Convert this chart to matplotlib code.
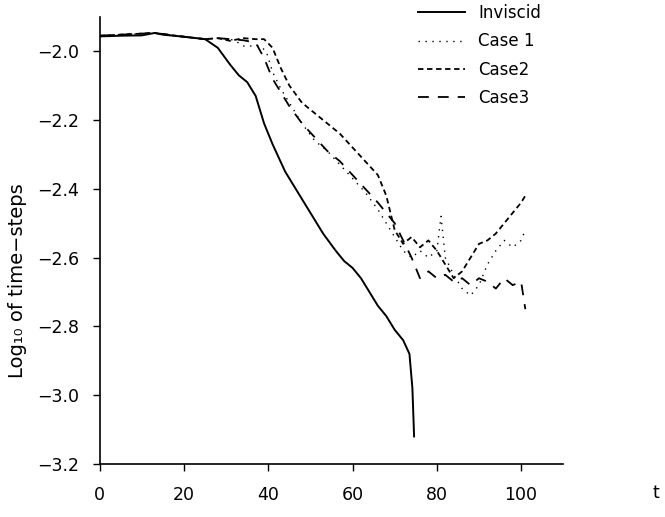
import numpy as np
import matplotlib
matplotlib.use("Agg")
import matplotlib.pyplot as plt

# ---- data ----
inviscid_t = [0, 5, 10, 13, 15, 20, 25, 28, 31, 33, 35, 37, 39, 41, 44, 47, 50,
              53, 56, 58, 60, 62, 64, 66, 68, 70, 72, 73.5, 74.2, 74.6]
inviscid_y = [-1.957, -1.955, -1.954, -1.947, -1.952, -1.958, -1.965, -1.99,
              -2.04, -2.07, -2.09, -2.13, -2.21, -2.27, -2.35, -2.41, -2.47,
              -2.53, -2.58, -2.61, -2.63, -2.66, -2.70, -2.74, -2.77, -2.81,
              -2.84, -2.88, -2.98, -3.12]

case1_t = [0, 13, 20, 25, 29, 32, 34, 36, 38, 39.5, 41, 43, 45, 48, 51, 54, 57,
           60, 63, 66, 68, 70, 72, 74, 76, 78, 80, 81, 82, 84, 86, 88, 90, 92,
           94, 96, 98, 100, 101]
case1_y = [-1.955, -1.947, -1.958, -1.965, -1.962, -1.968, -1.985, -1.985,
           -1.985, -2.0, -2.06, -2.11, -2.15, -2.21, -2.26, -2.29, -2.33,
           -2.37, -2.41, -2.46, -2.50, -2.54, -2.58, -2.60, -2.58, -2.60,
           -2.58, -2.48, -2.60, -2.65, -2.69, -2.71, -2.68, -2.62, -2.58,
           -2.55, -2.57, -2.55, -2.52]

case2_t = [0, 13, 20, 25, 28, 31, 34, 37, 39, 41, 43, 45, 48, 51, 54, 57, 60,
           63, 66, 68, 70, 72, 74, 76, 78, 80, 82, 84, 86, 88, 90, 92, 94, 96,
           98, 100, 101]
case2_y = [-1.955, -1.947, -1.958, -1.965, -1.962, -1.97, -1.962, -1.965,
           -1.965, -1.99, -2.05, -2.10, -2.15, -2.18, -2.21, -2.24, -2.28,
           -2.32, -2.36, -2.42, -2.52, -2.56, -2.54, -2.57, -2.55, -2.58,
           -2.62, -2.66, -2.64, -2.60, -2.56, -2.55, -2.53, -2.50, -2.47,
           -2.44, -2.42]

case3_t = [0, 13, 20, 25, 28, 31, 34, 37, 39, 41, 43, 45, 48, 51, 54, 57, 60,
           63, 66, 68, 70, 72, 74, 76, 78, 80, 82, 84, 86, 88, 90, 92, 94, 96,
           98, 100, 101]
case3_y = [-1.955, -1.947, -1.958, -1.965, -1.962, -1.965, -1.968, -1.975,
           -2.02, -2.08, -2.12, -2.16, -2.21, -2.25, -2.29, -2.32, -2.36,
           -2.40, -2.44, -2.47, -2.50, -2.55, -2.60, -2.66, -2.64, -2.66,
           -2.65, -2.67, -2.66, -2.68, -2.66, -2.67, -2.69, -2.66, -2.68,
           -2.67, -2.75]

x_ticks = [0, 20, 40, 60, 80, 100]
y_ticks = [-3.2, -3.0, -2.8, -2.6, -2.4, -2.2, -2.0]

plt.rcParams["font.family"] = ["DejaVu Sans"]
plt.rcParams["axes.unicode_minus"] = True

fig = plt.figure(figsize=(6.65, 5.17), dpi=100)
ax = fig.add_axes([0.150, 0.1025, 0.697, 0.865])

ax.plot(inviscid_t, inviscid_y, color="black", lw=1.4, ls="-", label="Inviscid")
ax.plot(case1_t, case1_y, color="black", lw=1.0, ls=(0, (1, 4)), label="Case 1")
ax.plot(case2_t, case2_y, color="black", lw=1.3, ls=(0, (3, 2)), label="Case2")
ax.plot(case3_t, case3_y, color="black", lw=1.3, ls=(0, (6, 5)), label="Case3")

ax.set_xlim(0, 110)
ax.set_ylim(-3.2, -1.9)
ax.set_xticks(x_ticks)
ax.set_yticks(y_ticks)
ax.set_yticklabels([f"{v:.1f}".replace("-", "\u2212") for v in y_ticks])
ax.tick_params(direction="out", length=5, width=1, labelsize=12.5,
               colors="black")
ax.tick_params(axis="x", pad=11)
ax.tick_params(axis="y", pad=10)
ax.spines["top"].set_visible(False)
ax.spines["right"].set_visible(False)
for s in ("left", "bottom"):
    ax.spines[s].set_linewidth(1.2)

ax.set_ylabel("Log\u2081\u2080 of time\u2212steps", fontsize=14)
ax.yaxis.set_label_coords(-0.158, 0.41)
fig.text(0.992, 0.047, "t", fontsize=12.5, ha="right", va="center")

ax.legend(loc="upper right", bbox_to_anchor=(0.985, 1.062), frameon=False,
          fontsize=12, handlelength=2.8, labelspacing=0.62)

fig.savefig("out.png", dpi=100)
